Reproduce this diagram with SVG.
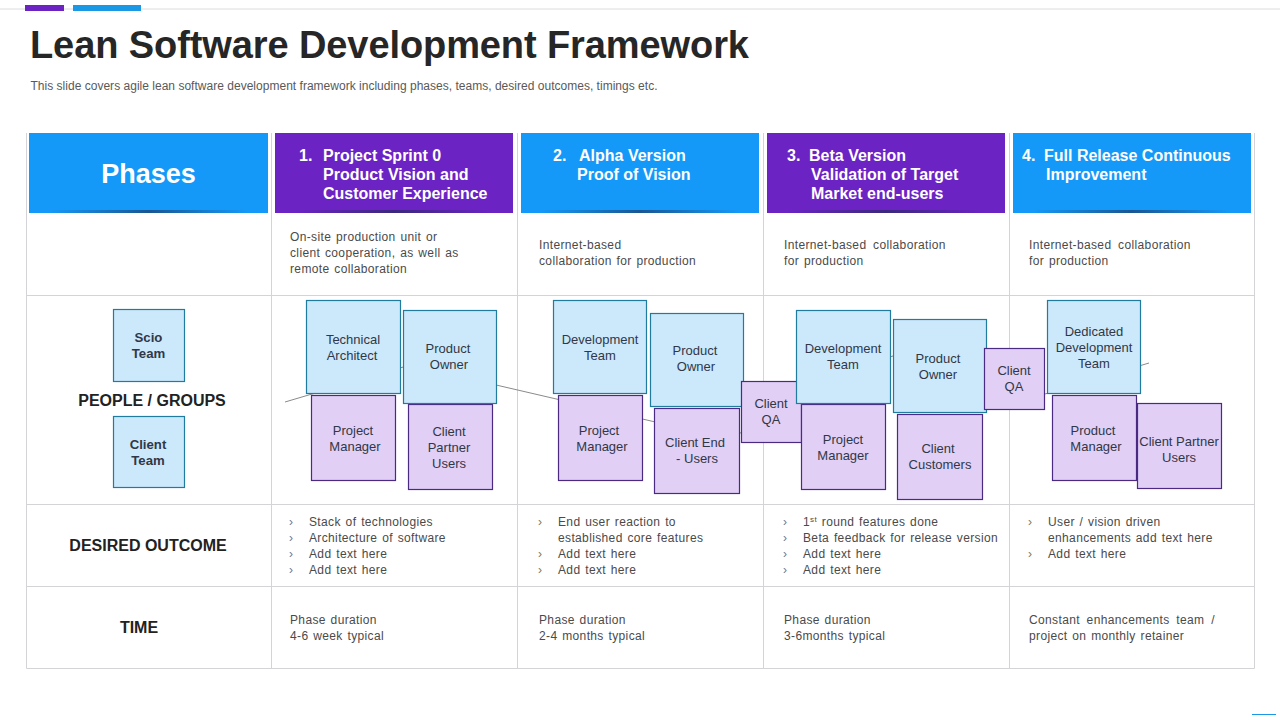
<svg xmlns="http://www.w3.org/2000/svg" width="1280" height="720" viewBox="0 0 1280 720">
<style>
text{font-family:"Liberation Sans",Arial,sans-serif}
.grid{stroke:#d4d4d8;stroke-width:1;fill:none}
.t{font-size:38px;font-weight:700;fill:#262626}
.sub{font-size:12px;fill:#595959}
.h{font-size:16px;font-weight:700;fill:#fff}
.b{font-size:12px;fill:#4a4a4a;letter-spacing:.36px;word-spacing:1.1px}
.w{word-spacing:3px}
.m{fill:#777}
.lab{font-size:16px;font-weight:700;fill:#222}
.n{font-size:13px;fill:#303848;text-anchor:middle}
.bl rect{fill:#cce8fb;stroke:#1f7c9e;stroke-width:1.2}
.pu rect{fill:#e1cff5;stroke:#4b2a83;stroke-width:1.2}
.sc{font-size:13.2px;font-weight:700;fill:#303848;text-anchor:middle}
.shd{fill:url(#sh)}
</style>
<defs>
<linearGradient id="sh" x1="0" y1="0" x2="1" y2="0">
<stop offset="0" stop-color="#1c2a50" stop-opacity="0"/><stop offset=".5" stop-color="#1c2a50" stop-opacity=".6"/><stop offset="1" stop-color="#1c2a50" stop-opacity="0"/>
</linearGradient>
</defs>
<rect width="1280" height="720" fill="#fff"/>
<path d="M0 9H1280" stroke="#dcdcdc" fill="none"/>
<rect x="25" y="5" width="39" height="6" fill="#6b23c4"/>
<rect x="73" y="5" width="68" height="6" fill="#1a98e6"/>
<text class="t" x="30" y="58" textLength="719" lengthAdjust="spacing">Lean Software Development Framework</text>
<text class="sub" x="30.500" y="90" textLength="627" lengthAdjust="spacing">This slide covers agile lean software development framework including phases, teams, desired outcomes, timings etc.</text>
<path d="M1252 714.500H1276" stroke="#1a98e6" fill="none"/>

<g id="grid">
<path class="grid" d="M26.500 133V668.500H1254.500V133M271.500 133V668.500M517.500 133V668.500M763.500 133V668.500M1009.500 133V668.500M26.500 295.500H1254.500M26.500 504.500H1254.500M26.500 586.500H1254.500"/>
</g>

<g id="header-phases"><rect x="29" y="133" width="239" height="80" fill="#1499f8"/><rect class="shd" x="49" y="210" width="199" height="3"/>
<text x="148.500" y="183" text-anchor="middle" font-size="27" font-weight="700" fill="#fff">Phases</text></g>
<g id="header-1"><rect x="275" y="133" width="238" height="80" fill="#6b23c4"/><rect class="shd" x="295" y="210" width="198" height="3"/>
<text class="h"><tspan x="299" y="161">1.</tspan><tspan x="323" y="161">Project Sprint 0</tspan><tspan x="323" y="180">Product Vision and</tspan><tspan x="323" y="199">Customer Experience</tspan></text></g>
<g id="header-2"><rect x="521" y="133" width="238" height="80" fill="#1499f8"/><rect class="shd" x="541" y="210" width="198" height="3"/>
<text class="h"><tspan x="553" y="161">2.</tspan><tspan x="579" y="161">Alpha Version</tspan><tspan x="577" y="180">Proof of Vision</tspan></text></g>
<g id="header-3"><rect x="767" y="133" width="238" height="80" fill="#6b23c4"/><rect class="shd" x="787" y="210" width="198" height="3"/>
<text class="h"><tspan x="787" y="161">3.</tspan><tspan x="809" y="161">Beta Version</tspan><tspan x="811" y="180">Validation of Target</tspan><tspan x="811" y="199">Market end-users</tspan></text></g>
<g id="header-4"><rect x="1013" y="133" width="238" height="80" fill="#1499f8"/><rect class="shd" x="1033" y="210" width="198" height="3"/>
<text class="h"><tspan x="1022" y="161">4.</tspan><tspan x="1044" y="161">Full Release Continuous</tspan><tspan x="1046" y="180">Improvement</tspan></text></g>

<g id="row-intro">
<text class="b"><tspan x="290" y="241">On-site production unit or</tspan><tspan x="290" y="257">client cooperation, as well as</tspan><tspan x="290" y="273">remote collaboration</tspan></text>
<text class="b"><tspan x="539" y="248.500">Internet-based</tspan><tspan x="539" y="264.500">collaboration for production</tspan></text>
<text class="b"><tspan class="w" x="784" y="248.500">Internet-based collaboration</tspan><tspan x="784" y="264.500">for production</tspan></text>
<text class="b"><tspan class="w" x="1029" y="248.500">Internet-based collaboration</tspan><tspan x="1029" y="264.500">for production</tspan></text>
</g>

<g id="row-labels">
<text class="lab" x="152" y="406" text-anchor="middle">PEOPLE / GROUPS</text>
<text class="lab" x="148" y="551" text-anchor="middle">DESIRED OUTCOME</text>
<text class="lab" x="139" y="633" text-anchor="middle">TIME</text>
</g>

<g id="connectors">
<polyline fill="none" stroke="#8a8a8a" stroke-width="1" points="285,402 410,365 654,421.700 741,433 770,392 893,356 1045,394 1149,363"/>
</g>

<g id="scio-team" class="bl"><rect x="113.500" y="309.500" width="71" height="72"/><text class="sc" x="148.500" y="342">Scio</text><text class="sc" x="148.500" y="358">Team</text></g>
<g id="client-team" class="bl"><rect x="113.500" y="416.500" width="71" height="71"/><text class="sc" x="148" y="449">Client</text><text class="sc" x="148" y="465">Team</text></g>

<g id="p1-technical-architect" class="bl"><rect x="306.500" y="300.500" width="94" height="93"/><text class="n" x="353" y="344">Technical</text><text class="n" x="352" y="360">Architect</text></g>
<g id="p1-project-manager" class="pu"><rect x="311.500" y="395.500" width="84" height="85"/><text class="n" x="353" y="435">Project</text><text class="n" x="355" y="451">Manager</text></g>
<g id="p1-client-partner" class="pu"><rect x="408.500" y="404.500" width="84" height="85"/><text class="n" x="449" y="436">Client</text><text class="n" x="449" y="452">Partner</text><text class="n" x="449" y="468">Users</text></g>
<g id="p1-product-owner" class="bl"><rect x="403.500" y="310.500" width="93" height="93"/><text class="n" x="448" y="353">Product</text><text class="n" x="449" y="369">Owner</text></g>

<g id="p2-development-team" class="bl"><rect x="553.500" y="300.500" width="93" height="93"/><text class="n" x="600" y="344">Development</text><text class="n" x="600" y="360">Team</text></g>
<g id="p2-project-manager" class="pu"><rect x="558.500" y="395.500" width="84" height="85"/><text class="n" x="599" y="435">Project</text><text class="n" x="602" y="451">Manager</text></g>
<g id="p2-product-owner" class="bl"><rect x="650.500" y="313.500" width="93" height="93"/><text class="n" x="695" y="355">Product</text><text class="n" x="696" y="371">Owner</text></g>
<g id="p2-client-end" class="pu"><rect x="654.500" y="408.500" width="85" height="85"/><text class="n" x="695" y="447">Client End</text><text class="n" x="697" y="463">- Users</text></g>
<g id="p2-client-qa" class="pu"><rect x="741.500" y="381.500" width="60" height="61"/><text class="n" x="771" y="408">Client</text><text class="n" x="771" y="424">QA</text></g>

<g id="p3-project-manager" class="pu"><rect x="801.500" y="404.500" width="84" height="85"/><text class="n" x="843" y="444">Project</text><text class="n" x="843" y="460">Manager</text></g>
<g id="p3-development-team" class="bl"><rect x="796.500" y="310.500" width="94" height="93"/><text class="n" x="843" y="353">Development</text><text class="n" x="843" y="369">Team</text></g>
<g id="p3-client-customers" class="pu"><rect x="897.500" y="414.500" width="85" height="85"/><text class="n" x="938" y="453">Client</text><text class="n" x="940" y="469">Customers</text></g>
<g id="p3-product-owner" class="bl"><rect x="893.500" y="319.500" width="93" height="93"/><text class="n" x="938" y="363">Product</text><text class="n" x="938" y="379">Owner</text></g>
<g id="p3-client-qa" class="pu"><rect x="984.500" y="348.500" width="60" height="61"/><text class="n" x="1014" y="375">Client</text><text class="n" x="1014" y="391">QA</text></g>

<g id="p4-dedicated-team" class="bl"><rect x="1047.500" y="300.500" width="93" height="93"/><text class="n" x="1094" y="336">Dedicated</text><text class="n" x="1094" y="352">Development</text><text class="n" x="1094" y="368">Team</text></g>
<g id="p4-product-manager" class="pu"><rect x="1052.500" y="395.500" width="84" height="85"/><text class="n" x="1093" y="435">Product</text><text class="n" x="1096" y="451">Manager</text></g>
<g id="p4-client-partner" class="pu"><rect x="1137.500" y="403.500" width="84" height="85"/><text class="n" x="1179" y="446">Client Partner</text><text class="n" x="1179" y="462">Users</text></g>

<g id="row-outcome">
<text class="b"><tspan class="m" x="289" y="525.500">›</tspan><tspan x="309" y="525.500">Stack of technologies</tspan><tspan class="m" x="289" y="541.500">›</tspan><tspan x="309" y="541.500">Architecture of software</tspan><tspan class="m" x="289" y="557.500">›</tspan><tspan x="309" y="557.500">Add text here</tspan><tspan class="m" x="289" y="573.500">›</tspan><tspan x="309" y="573.500">Add text here</tspan></text>
<text class="b"><tspan class="m" x="538" y="525.500">›</tspan><tspan x="558" y="525.500">End user reaction to</tspan><tspan x="558" y="541.500">established core features</tspan><tspan class="m" x="538" y="557.500">›</tspan><tspan x="558" y="557.500">Add text here</tspan><tspan class="m" x="538" y="573.500">›</tspan><tspan x="558" y="573.500">Add text here</tspan></text>
<text class="b"><tspan class="m" x="783" y="525.500">›</tspan><tspan x="803" y="525.500">1</tspan><tspan font-size="8" dy="-4">st</tspan><tspan dy="4"> round features done</tspan><tspan class="m" x="783" y="541.500">›</tspan><tspan x="803" y="541.500">Beta feedback for release version</tspan><tspan class="m" x="783" y="557.500">›</tspan><tspan x="803" y="557.500">Add text here</tspan><tspan class="m" x="783" y="573.500">›</tspan><tspan x="803" y="573.500">Add text here</tspan></text>
<text class="b"><tspan class="m" x="1028" y="525.500">›</tspan><tspan x="1048" y="525.500">User / vision driven</tspan><tspan x="1048" y="541.500">enhancements add text here</tspan><tspan class="m" x="1028" y="557.500">›</tspan><tspan x="1048" y="557.500">Add text here</tspan></text>
</g>

<g id="row-time">
<text class="b"><tspan x="290" y="623.500">Phase duration</tspan><tspan x="290" y="639.500">4-6 week typical</tspan></text>
<text class="b"><tspan x="539" y="623.500">Phase duration</tspan><tspan x="539" y="639.500">2-4 months typical</tspan></text>
<text class="b"><tspan x="784" y="623.500">Phase duration</tspan><tspan x="784" y="639.500">3-6months typical</tspan></text>
<text class="b"><tspan class="w" x="1029" y="623.500">Constant enhancements team /</tspan><tspan x="1029" y="639.500">project on monthly retainer</tspan></text>
</g>
</svg>
